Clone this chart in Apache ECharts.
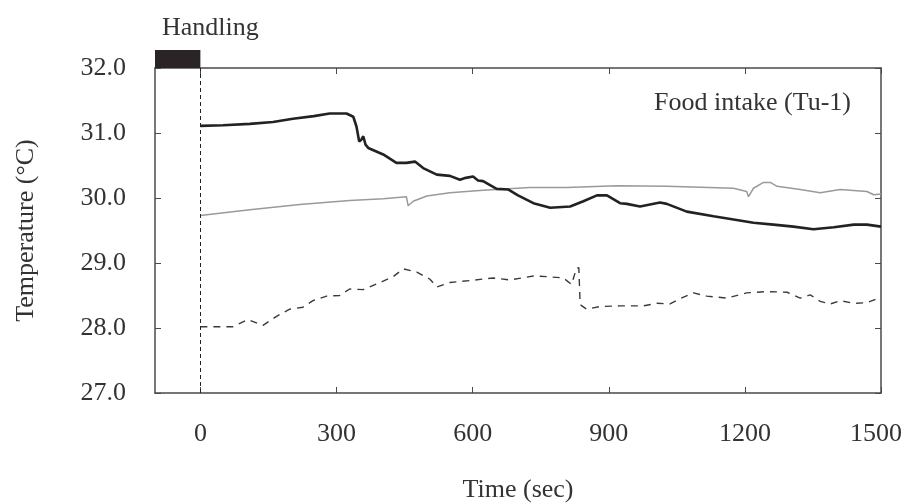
<!DOCTYPE html>
<html>
<head>
<meta charset="utf-8">
<script src="https://cdn.jsdelivr.net/npm/echarts@6/dist/echarts.min.js"></script>
<style>
    html, body { margin: 0; padding: 0; background: #fff; }
    #chart { width: 904px; height: 503px; }
</style>
</head>
<body>
<div id="chart"></div>
<script>
// tick labels
var xTicks = [0, 300, 600, 900, 1200, 1500];

// thick black line
var blackTime = [0, 50, 109, 160, 204, 250, 285, 322, 337, 344, 350, 355, 359, 364, 370, 403, 432, 454, 473, 491, 521, 550, 572, 585, 601, 612, 623, 653, 679, 700, 734, 771, 815, 844, 874, 896, 925, 940, 969, 1013, 1028, 1072, 1131, 1175, 1219, 1263, 1307, 1351, 1396, 1440, 1469, 1500];
var blackTemp = [31.11, 31.12, 31.14, 31.17, 31.22, 31.26, 31.30, 31.30, 31.25, 31.10, 30.87, 30.90, 30.95, 30.82, 30.77, 30.67, 30.54, 30.54, 30.56, 30.46, 30.36, 30.34, 30.28, 30.31, 30.33, 30.27, 30.26, 30.14, 30.13, 30.04, 29.92, 29.85, 29.87, 29.95, 30.04, 30.04, 29.92, 29.91, 29.87, 29.93, 29.91, 29.79, 29.72, 29.67, 29.62, 29.59, 29.56, 29.52, 29.55, 29.59, 29.59, 29.56];

// thin gray line
var grayTime = [0, 109, 219, 329, 403, 454, 458, 469, 499, 550, 623, 726, 807, 918, 1028, 1175, 1204, 1208, 1219, 1241, 1256, 1271, 1322, 1366, 1410, 1469, 1484, 1500];
var grayTemp = [29.73, 29.82, 29.90, 29.96, 29.99, 30.02, 29.88, 29.95, 30.03, 30.08, 30.12, 30.16, 30.16, 30.19, 30.18, 30.15, 30.10, 30.02, 30.15, 30.24, 30.24, 30.18, 30.13, 30.08, 30.13, 30.10, 30.05, 30.06];

// dashed line
var dashTime = [0, 72, 105, 138, 168, 197, 226, 248, 278, 307, 329, 359, 396, 425, 447, 477, 506, 521, 550, 594, 645, 682, 734, 763, 800, 818, 829, 834, 837, 851, 881, 925, 976, 1006, 1035, 1057, 1087, 1116, 1160, 1204, 1249, 1293, 1322, 1344, 1366, 1388, 1410, 1440, 1469, 1491, 1500];
var dashTemp = [28.02, 28.02, 28.13, 28.04, 28.18, 28.29, 28.32, 28.42, 28.49, 28.50, 28.60, 28.59, 28.70, 28.79, 28.91, 28.86, 28.75, 28.63, 28.70, 28.73, 28.77, 28.74, 28.80, 28.79, 28.77, 28.67, 28.92, 28.93, 28.36, 28.29, 28.33, 28.34, 28.34, 28.38, 28.37, 28.45, 28.54, 28.49, 28.46, 28.54, 28.56, 28.55, 28.46, 28.51, 28.41, 28.37, 28.42, 28.38, 28.39, 28.45, 28.43];

// handling period
var handling = [-100, 0];

function zip(a, b) {
    return a.map(function(v, i){ return [v, b[i]]; });
}

var font = '"Liberation Serif", "Times New Roman", serif';
var axisColor = '#4a4a4a';

var myChart = echarts.init(document.getElementById('chart'));
myChart.setOption({
    animation: false,
    backgroundColor: '#fff',
    textStyle: { fontFamily: font },
    title: [
        {
            text: 'Handling',
            left: 157,
            top: 10,
            textStyle: { fontFamily: font, fontSize: 26, fontWeight: 'normal', color: '#333' }
        },
        {
            text: 'Food intake (Tu-1)',
            right: 48,
            top: 85,
            textStyle: { fontFamily: font, fontSize: 26, fontWeight: 'normal', color: '#333' }
        }
    ],
    grid: { left: 155, right: 23, top: 68, bottom: 110, outerBoundsMode: 'none' },
    xAxis: [
        {
            type: 'value',
            min: -100,
            max: 1500,
            name: 'Time (sec)',
            nameLocation: 'middle',
            nameGap: 84,
            nameTextStyle: { fontFamily: font, fontSize: 26, color: '#333' },
            splitLine: { show: false },
            axisLine: { onZero: false, lineStyle: { color: axisColor, width: 1.5 } },
            axisTick: { inside: true, length: 6, customValues: xTicks, lineStyle: { color: axisColor } },
            axisLabel: {
                customValues: xTicks,
                margin: 28,
                fontFamily: font,
                fontSize: 26,
                color: '#333',
                formatter: function(v){
                    // last label sits a little left of its tick, as in the source
                    return v === 1500 ? '{last|' + v + '}' : String(v);
                },
                rich: {
                    last: { fontFamily: font, fontSize: 26, color: '#333', padding: [0, 10, 0, 0] }
                }
            }
        },
        {
            type: 'value',
            position: 'top',
            min: -100,
            max: 1500,
            splitLine: { show: false },
            axisLine: { onZero: false, lineStyle: { color: axisColor, width: 1.5 } },
            axisTick: { inside: true, length: 6, customValues: xTicks, lineStyle: { color: axisColor } },
            axisLabel: { show: false }
        }
    ],
    yAxis: [
        {
            type: 'value',
            min: 27,
            max: 32,
            interval: 1,
            name: 'Temperature (\u00B0C)',
            nameLocation: 'middle',
            nameGap: 116,
            nameTextStyle: { fontFamily: font, fontSize: 26, color: '#333' },
            splitLine: { show: false },
            axisLine: { show: true, onZero: false, lineStyle: { color: axisColor, width: 1.5 } },
            axisTick: { show: true, inside: true, length: 6, lineStyle: { color: axisColor } },
            axisLabel: {
                margin: 29,
                fontFamily: font,
                fontSize: 26,
                color: '#333',
                formatter: function(v){ return v.toFixed(1); }
            }
        },
        {
            type: 'value',
            position: 'right',
            min: 27,
            max: 32,
            interval: 1,
            splitLine: { show: false },
            axisLine: { show: true, onZero: false, lineStyle: { color: axisColor, width: 1.5 } },
            axisTick: { show: true, inside: true, length: 6, lineStyle: { color: axisColor } },
            axisLabel: { show: false }
        }
    ],
    series: [
        {
            name: 'gray',
            type: 'line',
            showSymbol: false,
            data: zip(grayTime, grayTemp),
            lineStyle: { color: '#9a9a9a', width: 1.5 },
            z: 2
        },
        {
            name: 'dashed',
            type: 'line',
            showSymbol: false,
            data: zip(dashTime, dashTemp),
            lineStyle: { color: '#3a3a3a', width: 1.4, type: [7, 6] },
            markLine: {
                silent: true,
                symbol: 'none',
                label: { show: false },
                lineStyle: { color: '#222', width: 1, type: [4, 3] },
                data: [{ xAxis: 0 }]
            },
            z: 2
        },
        {
            name: 'black',
            type: 'line',
            showSymbol: false,
            data: zip(blackTime, blackTemp),
            lineStyle: { color: '#222', width: 2.6 },
            z: 3
        },
        {
            name: 'handling',
            type: 'custom',
            clip: false,
            data: [handling],
            renderItem: function(params, api){
                var start = api.coord([api.value(0), 32]);
                var end = api.coord([api.value(1), 32]);
                return {
                    type: 'rect',
                    shape: { x: start[0], y: start[1] - 18, width: end[0] - start[0], height: 18 },
                    style: { fill: '#2a2426' }
                };
            },
            z: 4
        }
    ]
});
</script>
</body>
</html>
